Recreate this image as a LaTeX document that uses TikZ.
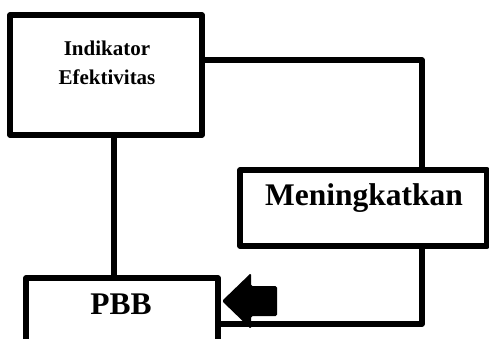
\documentclass[tikz,border=0pt]{standalone}
\usepackage{fontspec}
\setmainfont{Liberation Serif}
\begin{document}
\begin{tikzpicture}[x=1pt,y=-1pt,line width=5.5pt,line join=round,
  boxnode/.style={draw=black,fill=white,inner sep=0pt,minimum width=#1},
  smalltxt/.style={font=\fontsize{21}{29.5}\selectfont\bfseries,align=center,inner sep=0pt},
  bigtxt/.style={font=\fontsize{31.5}{36}\selectfont\bfseries,inner sep=0pt}]
\useasboundingbox (0,0) rectangle (489,338);
\clip (0,0) rectangle (489,338);
\node[boxnode=192pt,minimum height=120pt] (ind) at (106,75) {};
\node[boxnode=247pt,minimum height=76pt] (men) at (363.5,208) {};
\node[boxnode=192pt,minimum height=67pt] (pbb) at (122,311.5) {};
\node[smalltxt] (indt) at (107,63) {Indikator\\Efektivitas};
\node[bigtxt] (ment) at (364,198) {Meningkatkan};
\node[bigtxt] (pbbt) at (121,304) {PBB};
\coordinate (c1) at (422,60);
\coordinate (c2) at (422,324);
\coordinate (c3) at (114,0);
\draw (c3 |- ind.south) -- (c3 |- pbb.north);
\draw (ind.east |- c1) -- (c1) -- (c1 |- men.north);
\draw (c2 |- men.south) -- (c2) -- (c2 -| pbb.east);
\fill[rounded corners=1.5pt] (222,301) -- (251,273) -- (251,286) -- (277,286) -- (277,316) -- (251,316) -- (251,329) -- cycle;
\end{tikzpicture}
\end{document}
